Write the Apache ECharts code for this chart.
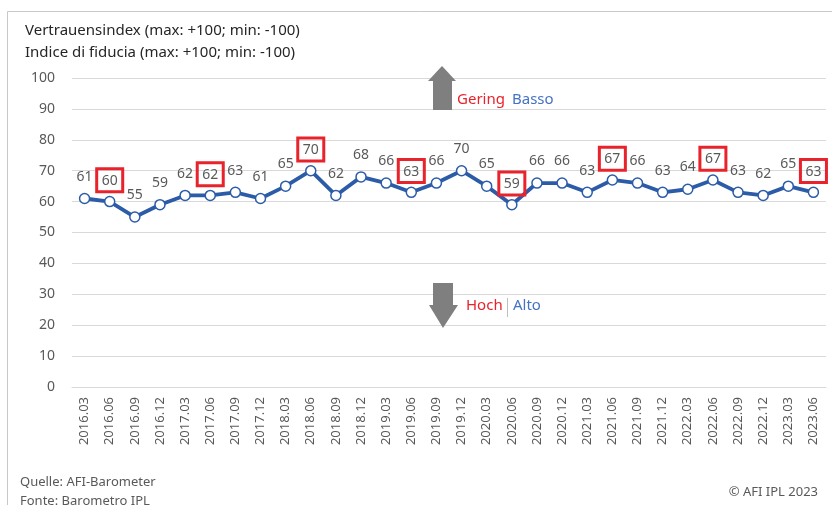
<!DOCTYPE html>
<html>
<head>
<meta charset="utf-8">
<script src="https://cdn.jsdelivr.net/npm/echarts@6/dist/echarts.min.js"></script>
<style>
  html, body { margin: 0; padding: 0; background: #fff; }
  #chart { width: 832px; height: 505px; }
</style>
</head>
<body>
<div id="chart"></div>
<script>
// Quartale
const quarters = [
  '2016.03', '2016.06', '2016.09', '2016.12',
  '2017.03', '2017.06', '2017.09', '2017.12',
  '2018.03', '2018.06', '2018.09', '2018.12',
  '2019.03', '2019.06', '2019.09', '2019.12',
  '2020.03', '2020.06', '2020.09', '2020.12',
  '2021.03', '2021.06', '2021.09', '2021.12',
  '2022.03', '2022.06', '2022.09', '2022.12',
  '2023.03', '2023.06'
];
// Vertrauensindex
const indexValues = [
  61, 60, 55, 59,
  62, 62, 63, 61,
  65, 70, 62, 68,
  66, 63, 66, 70,
  65, 59, 66, 66,
  63, 67, 66, 63,
  64, 67, 63, 62,
  65, 63
];
// rot markierte Werte
const highlighted = ['2016.06', '2017.06', '2018.06', '2019.06', '2020.06', '2021.06', '2022.06', '2023.06'];
const yTicks = { min: 0, max: 100, interval: 10 };

const font = '"Noto Sans", sans-serif';
const chart = echarts.init(document.getElementById('chart'));

const seriesData = indexValues.map((v, i) => {
  if (highlighted.indexOf(quarters[i]) === -1) return v;
  return {
    value: v,
    label: {
      borderColor: '#e8232b',
      borderWidth: 3,
      padding: [5, 5, 4, 5],
      distance: 4
    }
  };
});

const arrowGrey = '#7f7f7f';

const option = {
  animation: false,
  textStyle: { fontFamily: font },
  title: {
    text: 'Vertrauensindex (max: +100; min: -100)\nIndice di fiducia (max: +100; min: -100)',
    left: 20,
    top: 15,
    textStyle: { fontSize: 15, fontWeight: 'normal', color: '#262626', lineHeight: 22, fontFamily: font }
  },
  grid: { left: 72, right: 6, top: 78, bottom: 118 },
  xAxis: {
    type: 'category',
    data: quarters,
    axisLine: { lineStyle: { color: '#d9d9d9' } },
    axisTick: { alignWithLabel: true, length: 5, lineStyle: { color: '#d9d9d9' } },
    axisLabel: { rotate: 90, fontSize: 13, color: '#595959', margin: 10, interval: 0 }
  },
  yAxis: {
    type: 'value',
    min: yTicks.min,
    max: yTicks.max,
    interval: yTicks.interval,
    axisLine: { show: false },
    axisTick: { show: false },
    axisLabel: { fontSize: 14, color: '#595959', margin: 17 },
    splitLine: { lineStyle: { color: '#d9d9d9' } }
  },
  series: [{
    type: 'line',
    data: seriesData,
    symbol: 'circle',
    symbolSize: 10,
    lineStyle: { color: '#2c5ca8', width: 3.8 },
    itemStyle: { color: '#ffffff', borderColor: '#2c5ca8', borderWidth: 1.5 },
    label: {
      show: true,
      position: 'top',
      distance: 9,
      fontSize: 14,
      color: '#595959'
    }
  }],
  graphic: [
    // Rahmen
    { type: 'rect', z: 100, shape: { x: 7.5, y: 11.5, width: 900, height: 600 }, style: { fill: 'none', stroke: '#c8c8c8', lineWidth: 1 }, silent: true },
    // Pfeil hoch
    { type: 'rect', z: 100, shape: { x: 433, y: 78, width: 19, height: 32 }, style: { fill: arrowGrey } },
    { type: 'polygon', z: 101, shape: { points: [[428, 81], [442, 66], [456, 81]] }, style: { fill: arrowGrey } },
    { type: 'text', z: 100, left: 457, top: 92, style: { text: 'Gering', fill: '#e8232b', fontSize: 15, fontFamily: font } },
    { type: 'text', z: 100, left: 512, top: 92, style: { text: 'Basso', fill: '#4472c4', fontSize: 15, fontFamily: font } },
    // Pfeil runter
    { type: 'rect', z: 100, shape: { x: 433, y: 283, width: 20, height: 25 }, style: { fill: arrowGrey } },
    { type: 'polygon', z: 101, shape: { points: [[429, 305], [458, 305], [443, 328]] }, style: { fill: arrowGrey } },
    { type: 'text', z: 100, left: 466, top: 298, style: { text: 'Hoch', fill: '#e8232b', fontSize: 15, fontFamily: font } },
    { type: 'rect', z: 100, shape: { x: 507.5, y: 298, width: 0.5, height: 19 }, style: { fill: arrowGrey } },
    { type: 'text', z: 100, left: 513, top: 298, style: { text: 'Alto', fill: '#4472c4', fontSize: 15, fontFamily: font } },
    // Quelle
    { type: 'text', left: 20, top: 473, style: { text: 'Quelle: AFI-Barometer\nFonte: Barometro IPL', fill: '#595959', fontSize: 13, lineHeight: 19, fontFamily: font } },
    { type: 'text', right: 14, top: 486, style: { text: '© AFI IPL 2023', fill: '#595959', fontSize: 13, fontFamily: font } }
  ]
};

chart.setOption(option);
window.addEventListener('resize', chart.resize);
</script>
</body>
</html>
